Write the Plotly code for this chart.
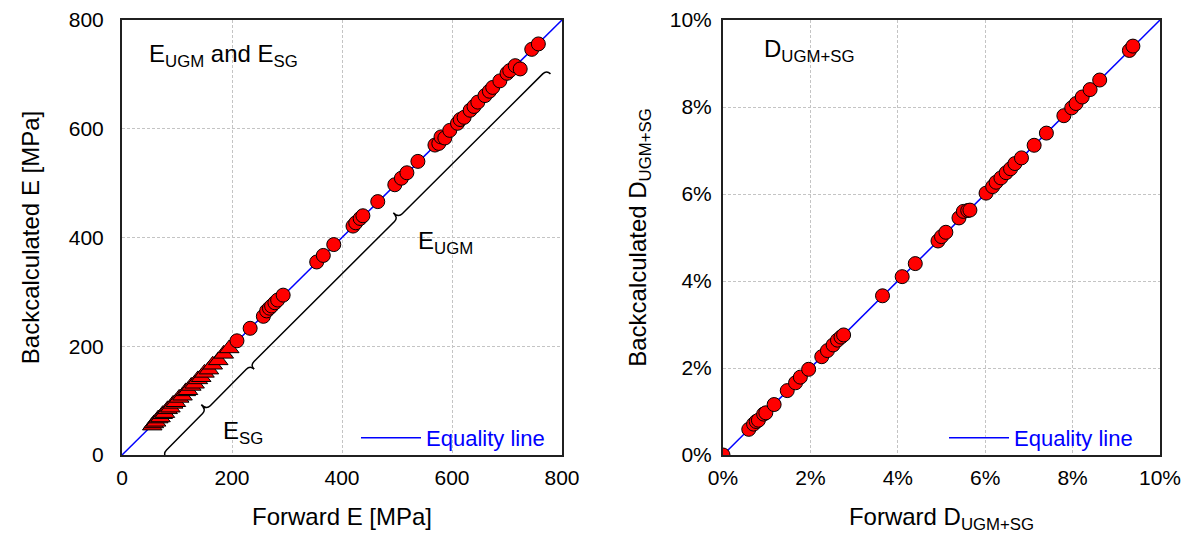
import plotly.graph_objects as go
import numpy as np

# ---------------- data ----------------
# Left panel: E moduli [MPa]
sg_forward = [55, 58, 62, 66, 70, 74, 78, 83, 88, 93, 98, 104, 110, 116, 120, 126,
              132, 138, 144, 150, 158, 165, 175, 185, 195]
sg_back = [54, 58, 61, 67, 69, 75, 77, 84, 87, 94, 97, 105, 109, 117, 119, 127,
           131, 139, 143, 151, 157, 166, 174, 186, 196]

ugm_forward = [209, 233, 257, 263, 268, 272, 278, 283, 293, 354, 366, 385, 420, 425,
               433, 438, 465, 496, 508, 518, 538, 569, 576, 580, 587, 596, 610, 615,
               622, 633, 640, 647, 660, 668, 674, 687, 700, 705, 715, 724, 745, 757]
ugm_back = [210, 233, 255, 265, 270, 274, 280, 285, 294, 355, 367, 387, 421, 427,
            435, 440, 466, 497, 509, 519, 540, 570, 573, 585, 583, 597, 610, 617,
            621, 634, 641, 649, 661, 669, 676, 688, 702, 707, 716, 710, 746, 756]

# Right panel: D_UGM+SG (fractions)
d_forward = [0.0, 0.0059, 0.0070, 0.0076, 0.0081, 0.0093, 0.0098, 0.0117, 0.0147,
             0.0166, 0.0177, 0.0196, 0.0226, 0.0239, 0.0252, 0.0262, 0.0270, 0.0276,
             0.0365, 0.0410, 0.0440, 0.0492, 0.0500, 0.0510, 0.0540, 0.0550, 0.0560,
             0.0565, 0.0602, 0.0617, 0.0625, 0.0636, 0.0648, 0.0658, 0.0668, 0.0683,
             0.0712, 0.0740, 0.0780, 0.0798, 0.0808, 0.0822, 0.0840, 0.0862, 0.0930,
             0.0938]
d_back = [0.0, 0.0059, 0.0071, 0.0077, 0.0080, 0.0094, 0.0097, 0.0116, 0.0148,
          0.0166, 0.0179, 0.0197, 0.0226, 0.0240, 0.0253, 0.0264, 0.0271, 0.0276,
          0.0366, 0.0410, 0.0440, 0.0492, 0.0502, 0.0512, 0.0545, 0.0560, 0.0562,
          0.0563, 0.0602, 0.0617, 0.0627, 0.0637, 0.0649, 0.0658, 0.0670, 0.0683,
          0.0712, 0.0740, 0.0780, 0.0798, 0.0808, 0.0823, 0.0840, 0.0862, 0.0930,
          0.0940]

e_ticks = [0, 200, 400, 600, 800]
d_ticks = [0, 0.02, 0.04, 0.06, 0.08, 0.10]

FONT = "Liberation Sans, Arial, sans-serif"
RED = "#ff0000"
BLUE = "#0000ff"
W, H = 1193, 536
OFF = 8  # page body margin of the browser

fig = go.Figure()

# equality lines
fig.add_trace(go.Scatter(x=[0, 800], y=[0, 800], mode="lines",
                         line=dict(color=BLUE, width=1.5), name="Equality line",
                         xaxis="x", yaxis="y", legend="legend"))
fig.add_trace(go.Scatter(x=[0, 0.1], y=[0, 0.1], mode="lines",
                         line=dict(color=BLUE, width=1.5), name="Equality line",
                         xaxis="x2", yaxis="y2", legend="legend2"))

marker_line = dict(color="black", width=1)
fig.add_trace(go.Scatter(x=sg_forward, y=sg_back, mode="markers", showlegend=False,
                         marker=dict(symbol="triangle-up", size=17, color=RED, line=marker_line),
                         xaxis="x", yaxis="y"))
fig.add_trace(go.Scatter(x=ugm_forward, y=ugm_back, mode="markers", showlegend=False,
                         marker=dict(symbol="circle", size=14, color=RED, line=marker_line),
                         xaxis="x", yaxis="y"))
fig.add_trace(go.Scatter(x=d_forward, y=d_back, mode="markers", showlegend=False,
                         marker=dict(symbol="circle", size=14, color=RED, line=marker_line),
                         xaxis="x2", yaxis="y2"))


def brace_path(p0, p1, d=13.0, h=10.0, r=10.0):
    p0 = np.array(p0, float)
    p1 = np.array(p1, float)
    t = (p1 - p0) / np.linalg.norm(p1 - p0)
    n = np.array([-t[1], t[0]])
    m = (p0 + p1) / 2

    def f(p):
        return f"{p[0]:.2f},{p[1]:.2f}"
    s = f"M {f(p0 - n*h)} Q {f(p0)} {f(p0 + t*r)} L {f(m - t*r)} "
    s += f"Q {f(m)} {f(m + n*d)} Q {f(m)} {f(m + t*r)} "
    s += f"L {f(p1 - t*r)} Q {f(p1)} {f(p1 - n*h)}"
    return s


brace_pts = [(74, 2), (233, 165), (772, 708)]
for a, b in zip(brace_pts[:-1], brace_pts[1:]):
    fig.add_shape(type="path", path=brace_path(a, b), xref="x", yref="y",
                  line=dict(color="black", width=1.5))

axis_common = dict(showline=True, mirror=True, linecolor="#202020", linewidth=2,
                   ticks="", showgrid=True, gridcolor="#c4c4c4", griddash="3px,2px",
                   gridwidth=1, zeroline=False, automargin=False,
                   tickfont=dict(family=FONT, size=21, color="black"))


def px_x(p):
    return (p - OFF) / W


def px_y(p):
    return 1 - (p - OFF) / H


ydom = [px_y(455), px_y(20)]

fig.update_layout(
    width=W, height=H,
    margin=dict(l=0, r=0, t=0, b=0, autoexpand=False),
    paper_bgcolor="white", plot_bgcolor="white",
    font=dict(family=FONT, color="black"),
    xaxis=dict(domain=[px_x(122), px_x(562)], range=[0, 800], tickvals=e_ticks,
               ticklabelstandoff=3,
               title=dict(text="Forward E [MPa]", font=dict(size=24), standoff=20),
               anchor="y", **axis_common),
    yaxis=dict(domain=ydom, range=[0, 800], tickvals=e_ticks,
               ticklabelstandoff=12,
               title=dict(text="Backcalculated E [MPa]", font=dict(size=24), standoff=22),
               anchor="x", **axis_common),
    xaxis2=dict(domain=[px_x(723), px_x(1160)], range=[0, 0.1], tickvals=d_ticks,
                tickformat=".0%", ticklabelstandoff=3,
                title=dict(text="Forward D<sub>UGM+SG</sub>", font=dict(size=24), standoff=20),
                anchor="y2", **axis_common),
    yaxis2=dict(domain=ydom, range=[0, 0.1], tickvals=d_ticks,
                tickformat=".0%", ticklabelstandoff=5,
                title=dict(text="Backcalculated D<sub>UGM+SG</sub>", font=dict(size=24), standoff=16),
                anchor="x2", **axis_common),
    legend=dict(x=px_x(550), y=px_y(438), xanchor="right", yanchor="middle",
                bgcolor="rgba(255,255,255,0)", borderwidth=0,
                font=dict(family=FONT, size=22, color=BLUE), itemwidth=60),
    legend2=dict(x=px_x(1138), y=px_y(438), xanchor="right", yanchor="middle",
                 bgcolor="rgba(255,255,255,0)", borderwidth=0,
                 font=dict(family=FONT, size=22, color=BLUE), itemwidth=60),
    annotations=[
        dict(text="E<sub>UGM</sub> and E<sub>SG</sub>", x=45, y=735, xref="x", yref="y",
             xanchor="left", yanchor="middle", showarrow=False,
             font=dict(family=FONT, size=24, color="black")),
        dict(text="E<sub>UGM</sub>", x=535, y=390, xref="x", yref="y",
             xanchor="left", yanchor="middle", showarrow=False,
             font=dict(family=FONT, size=24, color="black")),
        dict(text="E<sub>SG</sub>", x=180, y=42, xref="x", yref="y",
             xanchor="left", yanchor="middle", showarrow=False,
             font=dict(family=FONT, size=24, color="black")),
        dict(text="D<sub>UGM+SG</sub>", x=0.009, y=0.093, xref="x2", yref="y2",
             xanchor="left", yanchor="middle", showarrow=False,
             font=dict(family=FONT, size=24, color="black")),
    ],
)

fig.write_html("out.html")
